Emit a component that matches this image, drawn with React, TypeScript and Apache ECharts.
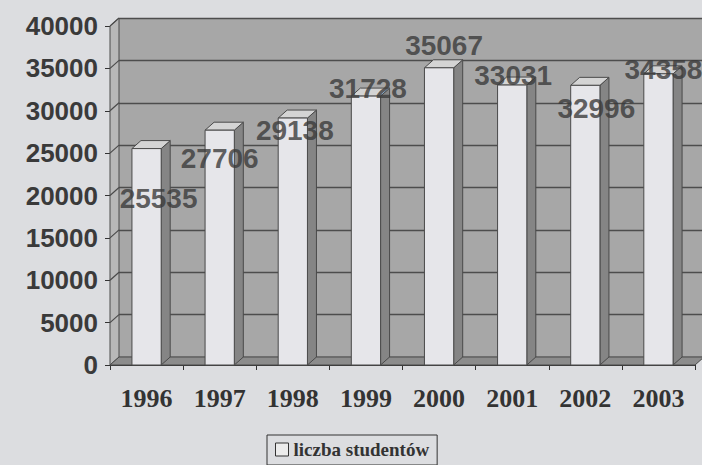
import React, { useEffect, useRef } from 'react';
import * as echarts from 'echarts';

const YEARS = ['1996', '1997', '1998', '1999', '2000', '2001', '2002', '2003'];
const STUDENTS = [25535, 27706, 29138, 31728, 35067, 33031, 32996, 34358];
const Y_TICKS = [0, 5000, 10000, 15000, 20000, 25000, 30000, 35000, 40000];
const SERIES_NAME = 'liczba studentów';
// label shifts (px) relative to each bar's top centre, as placed in the original
const LABEL_SHIFT: [number, number][] = [
  [12, 50], [0, 28], [2, 12], [2, -8], [5, -22], [1, -10], [11, 23], [5, -4],
];

const DX = 9;
const DY = -8;
const EDGE = '#4a4a4a';

export default function App() {
  const ref = useRef<HTMLDivElement>(null);

  useEffect(() => {
    if (!ref.current) return;
    const chart = echarts.init(ref.current, null, { renderer: 'svg' });

    const barData = STUDENTS.map((v, i) => [i, v]);
    const labelData = STUDENTS.map((v, i) => ({
      value: [i, v],
      label: { offset: LABEL_SHIFT[i] },
    }));

    const option: any = {
      animation: false,
      backgroundColor: '#dcdde0',
      grid: [
        { left: 119, right: -2, top: 18, bottom: 108, show: true, backgroundColor: '#a7a7a7', borderWidth: 0 },
        { left: 110, right: 7, top: 26, bottom: 100 },
      ],
      xAxis: [
        { gridIndex: 0, type: 'category', data: YEARS, show: false },
        {
          gridIndex: 1,
          type: 'category',
          data: YEARS,
          axisLine: { show: true, lineStyle: { color: '#333', width: 1 } },
          axisTick: { show: true, length: 5, interval: 0, lineStyle: { color: '#333' } },
          splitLine: { show: false },
          axisLabel: {
            margin: 20,
            fontFamily: 'Liberation Serif',
            fontWeight: 'bold',
            fontSize: 26,
            color: '#333',
          },
        },
      ],
      yAxis: [
        {
          gridIndex: 0,
          type: 'value',
          min: 0,
          max: 40000,
          interval: 5000,
          axisLabel: { show: false },
          axisLine: { show: false },
          axisTick: { show: false },
          splitLine: { show: true, lineStyle: { color: '#4d4d4d', width: 1.3 } },
        },
        {
          gridIndex: 1,
          type: 'value',
          min: 0,
          max: 40000,
          interval: 5000,
          axisLine: { show: true, lineStyle: { color: '#333', width: 1 } },
          axisTick: { show: true, length: 5, lineStyle: { color: '#333' } },
          splitLine: { show: false },
          axisLabel: {
            margin: 12,
            formatter: (v: number) => String(v),
            fontFamily: 'Liberation Sans',
            fontWeight: 'bold',
            fontSize: 26,
            color: '#3a3a3a',
          },
        },
      ],
      legend: {
        data: [
          {
            name: SERIES_NAME,
            icon: 'rect',
            itemStyle: { color: '#ececec', borderColor: '#333', borderWidth: 1 },
          },
        ],
        left: 267,
        top: 435,
        borderColor: '#333',
        borderWidth: 1,
        padding: [5, 8, 6, 8],
        itemWidth: 13,
        itemHeight: 13,
        itemGap: 5,
        textStyle: {
          fontFamily: 'Liberation Serif',
          fontWeight: 'bold',
          fontSize: 19,
          color: '#333',
        },
      },
      series: [
        {
          type: 'custom',
          name: 'walls',
          xAxisIndex: 1,
          yAxisIndex: 1,
          silent: true,
          z: 1,
          data: [[0, 0]],
          renderItem: (params: any, api: any) => {
            const cs = params.coordSys;
            const x0 = cs.x;
            const y0 = cs.y;
            const w = cs.width;
            const yb = cs.y + cs.height;
            const children: any[] = [
              {
                type: 'polygon',
                shape: { points: [[x0, y0], [x0 + DX, y0 + DY], [x0 + DX, yb + DY], [x0, yb]] },
                style: { fill: '#b8b8b8', stroke: EDGE, lineWidth: 1 },
              },
              {
                type: 'polygon',
                shape: { points: [[x0, yb], [x0 + DX, yb + DY], [x0 + w + DX, yb + DY], [x0 + w, yb]] },
                style: { fill: '#8c8c8c', stroke: EDGE, lineWidth: 1 },
              },
            ];
            Y_TICKS.forEach((t) => {
              if (t === 0) return;
              const y = api.coord([0, t])[1];
              children.push({
                type: 'line',
                shape: { x1: x0, y1: y, x2: x0 + DX, y2: y + DY },
                style: { stroke: EDGE, lineWidth: 1.2 },
              });
            });
            return { type: 'group', children };
          },
        },
        {
          type: 'custom',
          name: SERIES_NAME,
          xAxisIndex: 1,
          yAxisIndex: 1,
          z: 2,
          itemStyle: { color: '#e6e6ea' },
          encode: { x: 0, y: 1 },
          data: barData,
          renderItem: (params: any, api: any) => {
            const i = api.value(0);
            const v = api.value(1);
            const top = api.coord([i, v]);
            const base = api.coord([i, 0]);
            const bw = api.size([1, 0])[0] * 0.4;
            const l = top[0] - bw / 2;
            const r = top[0] + bw / 2;
            const ty = top[1];
            const by = base[1];
            return {
              type: 'group',
              children: [
                {
                  type: 'polygon',
                  shape: { points: [[r, ty], [r + DX, ty + DY], [r + DX, by + DY], [r, by]] },
                  style: { fill: '#858585', stroke: EDGE, lineWidth: 1 },
                },
                {
                  type: 'polygon',
                  shape: { points: [[l, ty], [l + DX, ty + DY], [r + DX, ty + DY], [r, ty]] },
                  style: { fill: '#d4d4d4', stroke: EDGE, lineWidth: 1 },
                },
                {
                  type: 'rect',
                  shape: { x: l, y: ty, width: bw, height: by - ty },
                  style: { fill: '#e6e6ea', stroke: EDGE, lineWidth: 1 },
                },
              ],
            };
          },
        },
        {
          type: 'scatter',
          name: 'labels',
          xAxisIndex: 1,
          yAxisIndex: 1,
          silent: true,
          z: 3,
          symbolSize: 1,
          itemStyle: { color: 'transparent' },
          data: labelData,
          label: {
            show: true,
            position: 'inside',
            align: 'center',
            verticalAlign: 'middle',
            formatter: (p: any) => String(p.value[1]),
            fontFamily: 'Liberation Sans',
            fontWeight: 'bold',
            fontSize: 28,
            color: '#3a3a3a',
          },
        },
      ],
    };

    chart.setOption(option);
    return () => chart.dispose();
  }, []);

  return (
    <div
      ref={ref}
      style={{ position: 'fixed', left: 0, top: 0, width: 702, height: 465 }}
    />
  );
}
